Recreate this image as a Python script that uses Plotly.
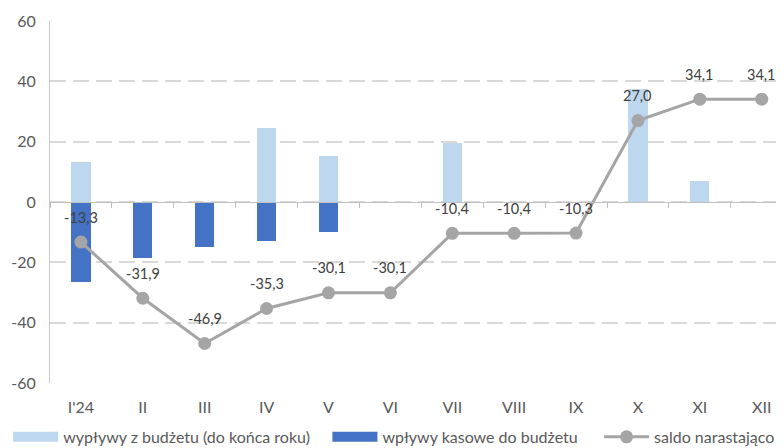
import plotly.graph_objects as go

categories = ["I'24", "II", "III", "IV", "V", "VI", "VII", "VIII", "IX", "X", "XI", "XII"]
outflows = [13.3, 0, 0, 24.6, 15.2, 0, 19.7, 0, 0, 37.3, 7.1, 0]          # wypływy z budżetu
inflows = [-26.6, -18.6, -15.0, -13.0, -10.0, 0, 0, 0, 0, 0, 0, 0]        # wpływy kasowe
balance = [-13.3, -31.9, -46.9, -35.3, -30.1, -30.1, -10.4, -10.4, -10.3, 27.0, 34.1, 34.1]
y_ticks = [60, 40, 20, 0, -20, -40, -60]
y_tick_labels = ["60", "40", "20", "0", "-20", "-40", "-60"]

names = ["wypływy z budżetu (do końca roku)", "wpływy kasowe do budżetu", "saldo narastająco"]
legend_pad = [3, 4, 0]  # trailing non-breaking spaces used only for legend spacing

FONT = "Lato"
AXIS_C = "#595959"
GRID_C = "#D9D9D9"
LIGHT = "#BDD7EE"
DARK = "#4472C4"
GREY = "#A5A5A5"

def legend_name(i):
    return names[i] + "\u00a0" * legend_pad[i]

fig = go.Figure()
fig.add_trace(go.Bar(
    x=categories, y=outflows, name=names[0], showlegend=False,
    marker=dict(color=LIGHT, line=dict(width=0)), width=0.31,
    xaxis="x", yaxis="y",
))
fig.add_trace(go.Bar(
    x=categories, y=inflows, name=names[1], showlegend=False,
    marker=dict(color=DARK, line=dict(width=0)), width=0.31,
    xaxis="x", yaxis="y",
))
# legend entries with wide swatches
fig.add_trace(go.Scatter(x=[None], y=[None], name=legend_name(0), mode="lines",
                         line=dict(color=LIGHT, width=12), xaxis="x", yaxis="y"))
fig.add_trace(go.Scatter(x=[None], y=[None], name=legend_name(1), mode="lines",
                         line=dict(color=DARK, width=12), xaxis="x", yaxis="y"))
fig.add_trace(go.Scatter(
    x=categories, y=balance, name=legend_name(2), mode="lines+markers",
    line=dict(color=GREY, width=3), marker=dict(color=GREY, size=13),
    xaxis="x2", yaxis="y",
))

for c, v in zip(categories, balance):
    fig.add_annotation(
        x=c, y=v, xref="x2", yref="y", text=f"{v:.1f}".replace(".", ","),
        showarrow=False, yshift=25, yanchor="middle",
        font=dict(family=FONT, size=14.5, color="#404040"),
    )

xr = [-0.5, 11.36]
fig.update_layout(
    width=776, height=440,
    margin=dict(l=42, r=0, t=13, b=65, autoexpand=False),
    paper_bgcolor="white", plot_bgcolor="white",
    barmode="relative", bargap=0,
    font=dict(family=FONT, size=16, color=AXIS_C),
    showlegend=True,
    legend=dict(
        orientation="h", x=-0.057, xanchor="left", y=-0.149, yanchor="middle",
        font=dict(family=FONT, size=16, color=AXIS_C), bgcolor="rgba(0,0,0,0)",
        traceorder="normal", itemwidth=45,
    ),
    xaxis=dict(
        type="category", categoryorder="array", categoryarray=categories,
        range=xr, showline=False, showgrid=False, zeroline=False, ticks="",
        tickfont=dict(family=FONT, size=16, color=AXIS_C), ticklabelstandoff=13,
        automargin=False,
    ),
    xaxis2=dict(
        type="category", categoryorder="array", categoryarray=categories,
        overlaying="x", anchor="free", position=0.5, matches="x",
        range=xr, showline=True, linecolor="#BFBFBF", linewidth=1,
        showgrid=False, zeroline=False, ticks="outside", tickson="boundaries",
        ticklen=5, tickcolor="#BFBFBF", showticklabels=False, automargin=False,
    ),
    yaxis=dict(
        range=[-60, 60], tickvals=y_ticks, ticktext=y_tick_labels,
        showline=True, linecolor="#C8C8C8", linewidth=1,
        showgrid=True, gridcolor=GRID_C, griddash="16px,7px", gridwidth=1.5,
        zeroline=False, ticks="", ticklabelstandoff=10, automargin=False,
        tickfont=dict(family=FONT, size=16, color=AXIS_C),
    ),
)

fig.write_html("out.html")
